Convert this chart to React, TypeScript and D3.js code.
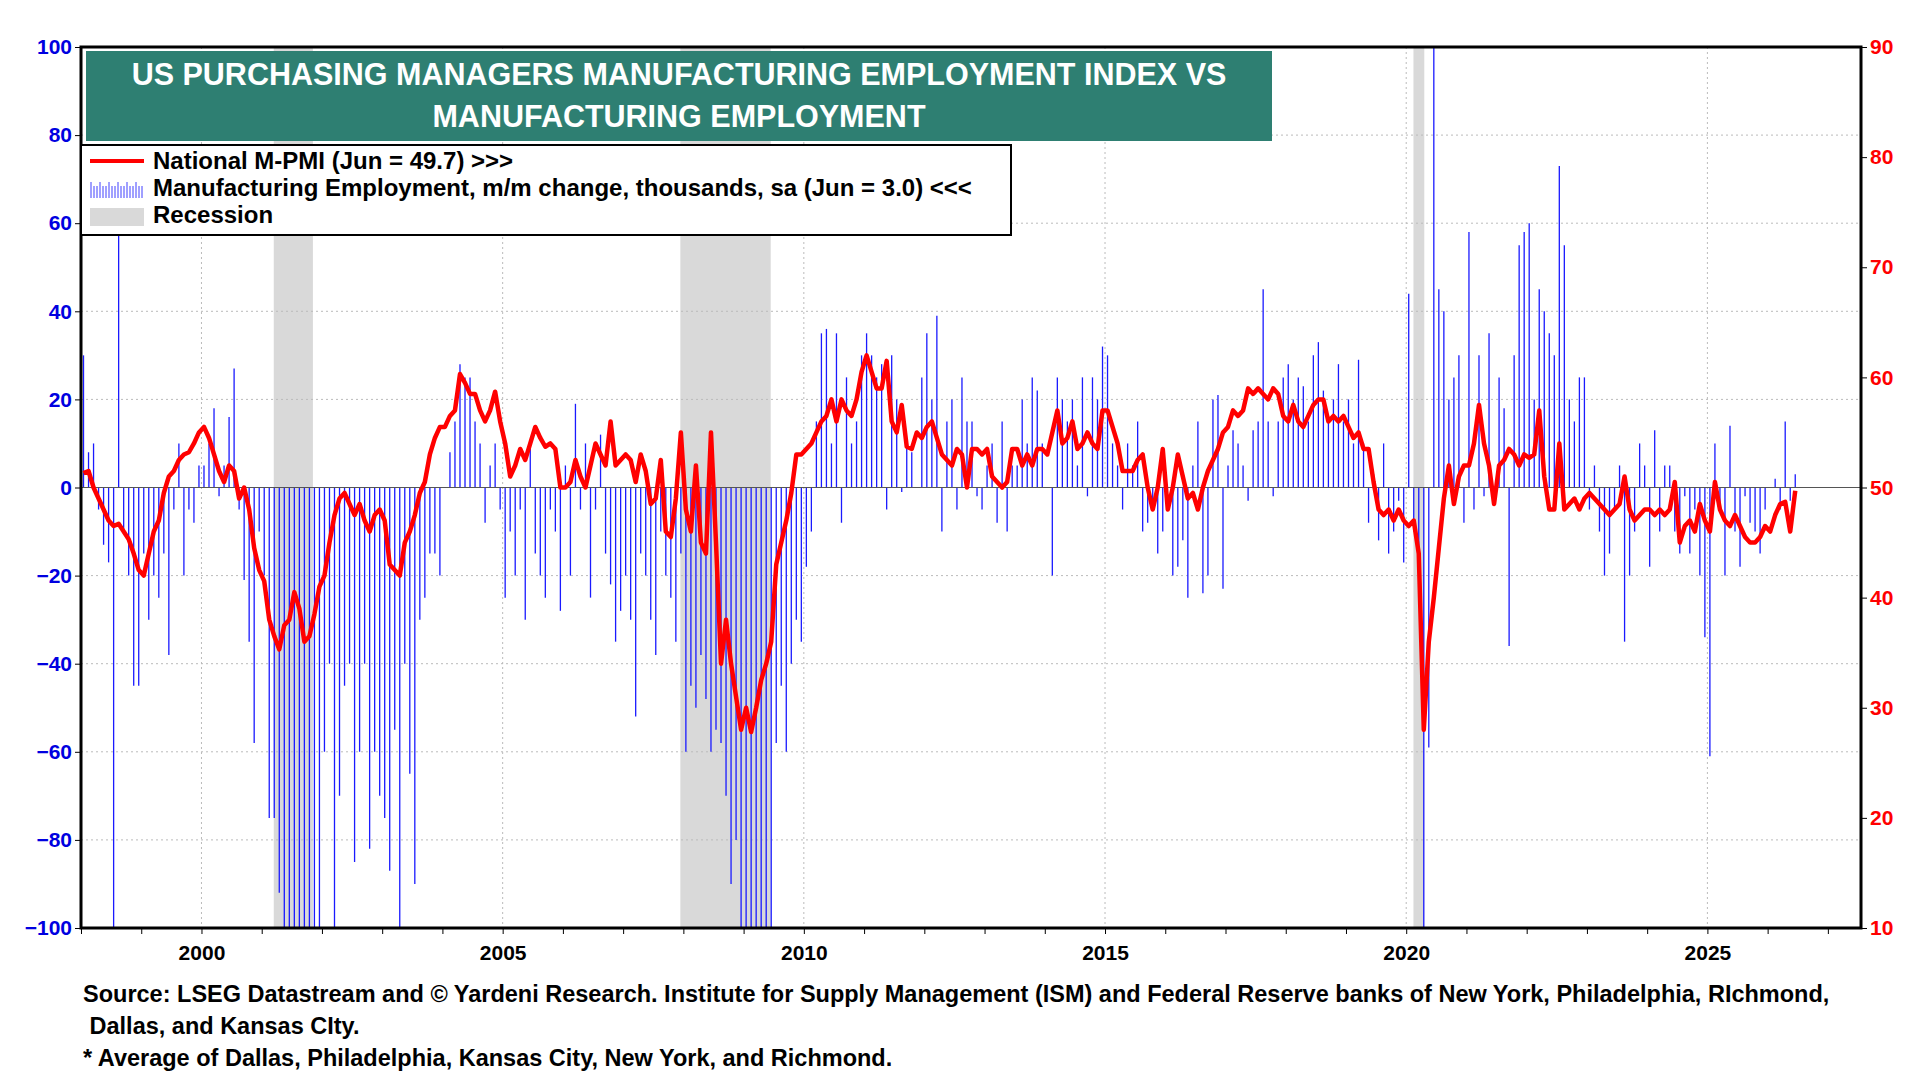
import * as d3 from "d3";
import { useEffect, useRef } from "react";

const startYear = 1998;
// Manufacturing employment, m/m change, thousands (monthly from Jan 1998)
const employment: number[] = [
  30, 8, 10, -5, -13, -17, -100, 60, -10, -20, -45, -45,
  -15, -30, -20, -25, -15, -38, -5, 10, -20, -5, -8, 5,
  5, 10, 18, -2, 5, 16, 27, -5, -21, -35, -58, -10,
  -20, -75, -75, -92, -100, -100, -100, -100, -100, -100, -100, -100,
  -60, -40, -100, -70, -45, -40, -85, -60, -40, -82, -60, -70,
  -75, -87, -55, -100, -40, -65, -90, -30, -25, -15, -15, -20,
  0, 8, 15, 28, 25, 25, 15, 10, -8, 5, 10, -5,
  -25, -10, -20, -5, -30, 10, -15, -20, -25, -5, -10, -28,
  5, -20, 19, -5, 10, -25, -5, 12, -15, -22, -35, -28,
  -20, -30, -52, -15, -20, -30, -38, -10, -20, -25, -35, -15,
  -60, -45, -50, -38, -48, -60, -55, -58, -70, -90, -80, -100,
  -100, -100, -100, -100, -100, -100, -58, -45, -60, -40, -30, -35,
  -18, -10, 15, 35, 36, 10, 35, -8, 25, 10, 15, 30,
  35, 30, 25, 28, -5, 30, 20, -1, 10, 8, 0, 25,
  35, 20, 39, -10, 15, 20, -5, 25, 15, 15, -2, -5,
  5, 10, -8, 15, -10, 5, 5, 20, 10, 25, 22, 10,
  0, -20, 25, 20, 15, 20, 5, 25, -2, 25, 20, 32,
  30, 10, 5, -5, 10, 5, 15, -10, -8, -5, -15, -10,
  0, -20, -18, -12, -25, 5, 15, -24, -20, 20, 21, -23,
  5, 13, 10, 5, -3, 13, 15, 45, 15, -2, 15, 25,
  28, 20, 25, 23, 15, 30, 33, 22, 15, 20, 28, 15,
  20, 10, 29, 10, -8, 3, -12, 10, -15, -10, -3, -17,
  44, -10, -15, -100, -59, 100, 45, 40, 20, 25, 30, -8,
  58, -5, 30, -2, 35, -3, 25, 18, -36, 30, 55, 58,
  60, 20, 45, 40, 35, 30, 73, 55, 20, 15, 25, 25,
  -5, 5, -10, -20, -15, -5, 5, -35, -20, -10, 10, 5,
  -18, 13, -10, 5, 5, -10, -15, -2, -15, -5, -20, -34,
  -61, 10, -5, -20, 14, -10, -18, -2, -8, -10, -15, -5,
  0, 2, -5, 15, -3, 3,
];
// National M-PMI (monthly from Jan 1998)
const pmi: number[] = [
  51.3, 51.5, 50, 49, 48, 47, 46.5, 46.7, 46, 45.3, 44, 42.5,
  42, 44, 46, 47, 49.5, 51, 51.5, 52.5, 53, 53.2, 54, 55,
  55.5, 54.5, 53, 51.5, 50.5, 52, 51.5, 49, 50, 48, 44.5, 42.5,
  41.5, 38, 36.5, 35.3, 37.5, 38, 40.5, 39, 36, 36.5, 38.5, 41,
  42, 45, 47.5, 49, 49.5, 48.5, 47.5, 48.5, 47, 46, 47.5, 48,
  47, 43, 42.5, 42, 45, 46, 47.5, 49.5, 50.5, 53, 54.5, 55.5,
  55.5, 56.5, 57, 60.3, 59.5, 58.5, 58.5, 57, 56, 57, 58.7, 56,
  54, 51, 52, 53.5, 52.5, 54, 55.5, 54.5, 53.7, 54, 53.5, 50,
  50, 50.5, 52.5, 51, 50, 52, 54, 53, 52, 56, 52, 52.5,
  53, 52.5, 50.5, 53, 51.5, 48.5, 49, 52.5, 46, 45.5, 49, 55,
  48, 46, 52, 45, 44, 55, 45, 34, 38, 34, 31, 28,
  30, 27.8, 30, 32.5, 34, 36, 43, 45, 47, 49.5, 53, 53,
  53.5, 54, 55, 56, 56.5, 58, 56, 58, 57, 56.5, 58, 60.5,
  62, 60.5, 59, 59, 61.5, 56, 55, 57.5, 53.7, 53.5, 55, 54.5,
  55.5, 56, 54.5, 53, 52.5, 52, 53.5, 53, 50, 53.5, 53.5, 53,
  53.5, 51, 50.5, 50, 50.5, 53.5, 53.5, 52, 53, 52, 53.5, 53.5,
  53, 55, 57, 54, 54.5, 56, 53.5, 54, 55, 54, 53.5, 57,
  57, 55.5, 54, 51.5, 51.5, 51.5, 52.5, 53, 50, 48, 50, 53.5,
  48, 50, 53, 51, 49, 49.5, 48, 50, 51.5, 52.5, 53.5, 55,
  55.5, 57, 56.5, 57, 59, 58.5, 59, 58.5, 58, 59, 58.5, 56.5,
  56, 57.5, 56, 55.5, 56.5, 57.5, 58, 58, 56, 56.5, 56, 56.5,
  55.5, 54.5, 55, 53.5, 53.5, 50.5, 48, 47.5, 48, 47, 48, 47,
  46.5, 47, 44, 28, 36, 40, 44.5, 49, 52, 48.5, 51, 52,
  52, 54, 57.5, 54, 52, 48.5, 52, 52.5, 53.5, 53, 52, 53,
  52.7, 53, 57, 51, 48, 48, 54, 48, 48.5, 49, 48, 49,
  49.5, 49, 48.5, 48, 47.5, 48, 48.5, 51, 48, 47, 47.5, 48,
  48, 47.5, 48, 47.5, 48, 50.5, 45, 46.5, 47, 46, 48.5, 47,
  46, 50.5, 48, 47, 46.5, 47.5, 46.5, 45.5, 45, 45, 45.5, 46.5,
  46, 47.5, 48.5, 48.7, 46, 49.7,
];
const recessions: [number, number][] = [[2001.2, 2001.85], [2007.95, 2009.45], [2020.12, 2020.3]];
const leftTicks = [-100, -80, -60, -40, -20, 0, 20, 40, 60, 80, 100];
const rightTicks = [10, 20, 30, 40, 50, 60, 70, 80, 90];
const yearLabels = [2000, 2005, 2010, 2015, 2020, 2025];

export default function App() {
  const ref = useRef<SVGSVGElement | null>(null);

  useEffect(() => {
    const svg = d3.select(ref.current);
    svg.selectAll("*").remove();
    const W = 1920, H = 1080;
    const m = { left: 81, right: 59, top: 47, bottom: 152 };
    const x = d3.scaleLinear().domain([1998.0, 2027.55]).range([m.left, W - m.right]);
    const yL = d3.scaleLinear().domain([-100, 100]).range([H - m.bottom, m.top]);
    const yR = d3.scaleLinear().domain([10, 90]).range([H - m.bottom, m.top]);
    const font = "Liberation Sans, Arial, sans-serif";

    svg.append("defs").append("clipPath").attr("id", "clip").append("rect")
      .attr("x", m.left).attr("y", m.top).attr("width", W - m.left - m.right).attr("height", H - m.top - m.bottom);

    const g = svg.append("g").attr("clip-path", "url(#clip)");
    g.selectAll("rect.rec").data(recessions).enter().append("rect")
      .attr("x", (d) => x(d[0])).attr("width", (d) => x(d[1]) - x(d[0]))
      .attr("y", m.top).attr("height", H - m.top - m.bottom).attr("fill", "#d9d9d9");

    // grid
    g.selectAll("line.hg").data(leftTicks).enter().append("line")
      .attr("x1", m.left).attr("x2", W - m.right).attr("y1", (d) => yL(d)).attr("y2", (d) => yL(d))
      .attr("stroke", "#bbb").attr("stroke-dasharray", "2,3");
    g.selectAll("line.vg").data(yearLabels).enter().append("line")
      .attr("x1", (d) => x(d)).attr("x2", (d) => x(d)).attr("y1", m.top).attr("y2", H - m.bottom)
      .attr("stroke", "#bbb").attr("stroke-dasharray", "2,3");

    const t = (i: number) => startYear + (i + 0.5) / 12;
    g.selectAll("line.bar").data(employment).enter().append("line")
      .attr("x1", (_, i) => x(t(i))).attr("x2", (_, i) => x(t(i)))
      .attr("y1", yL(0)).attr("y2", (d) => yL(d))
      .attr("stroke", "#1a1aff").attr("stroke-width", 1.3);
    g.append("line").attr("x1", m.left).attr("x2", W - m.right).attr("y1", yL(0)).attr("y2", yL(0))
      .attr("stroke", "#555").attr("stroke-width", 1);

    const line = d3.line<number>().x((_, i) => x(t(i))).y((d) => yR(d));
    g.append("path").datum(pmi).attr("d", line).attr("fill", "none")
      .attr("stroke", "#ff0000").attr("stroke-width", 4.5).attr("stroke-linejoin", "round");

    svg.append("rect").attr("x", m.left).attr("y", m.top).attr("width", W - m.left - m.right)
      .attr("height", H - m.top - m.bottom).attr("fill", "none").attr("stroke", "#000").attr("stroke-width", 3);

    // axes
    const la = svg.append("g").attr("transform", `translate(${m.left},0)`)
      .call(d3.axisLeft(yL).tickValues(leftTicks).tickSize(6));
    la.selectAll("text").attr("fill", "#0000e0");
    const ra = svg.append("g").attr("transform", `translate(${W - m.right},0)`)
      .call(d3.axisRight(yR).tickValues(rightTicks).tickSize(6));
    ra.selectAll("text").attr("fill", "#ff0000");
    const years = d3.range(1998, 2028);
    const ba = svg.append("g").attr("transform", `translate(0,${H - m.bottom})`)
      .call(d3.axisBottom(x).tickValues(years).tickSize(6).tickFormat((d) => (yearLabels.includes(+d) ? String(d) : "")));
    ba.selectAll("text").attr("fill", "#000").attr("dy", "1.1em");
    [la, ra, ba].forEach((a) => {
      a.select(".domain").remove();
      a.selectAll("text").attr("font-family", font).attr("font-weight", "bold").attr("font-size", 21);
    });

    // title
    svg.append("rect").attr("x", 86).attr("y", 51).attr("width", 1186).attr("height", 90).attr("fill", "#2e7f72");
    ["US PURCHASING MANAGERS MANUFACTURING EMPLOYMENT INDEX VS", "MANUFACTURING EMPLOYMENT"].forEach((s, i) =>
      svg.append("text").attr("x", 679).attr("y", 85 + i * 42).attr("text-anchor", "middle")
        .attr("font-family", font).attr("font-weight", "bold").attr("font-size", 30.5).attr("fill", "#fff").text(s));

    // legend
    const lg = svg.append("g");
    lg.append("rect").attr("x", 81).attr("y", 145).attr("width", 930).attr("height", 90)
      .attr("fill", "#fff").attr("stroke", "#000").attr("stroke-width", 2);
    const items = ["National M-PMI (Jun = 49.7) >>>", "Manufacturing Employment, m/m change, thousands, sa (Jun = 3.0) <<<", "Recession"];
    items.forEach((s, i) => lg.append("text").attr("x", 153).attr("y", 169 + i * 27)
      .attr("font-family", font).attr("font-weight", "bold").attr("font-size", 24).text(s));
    lg.append("line").attr("x1", 90).attr("x2", 144).attr("y1", 161).attr("y2", 161).attr("stroke", "#f00").attr("stroke-width", 4);
    lg.selectAll("line.lb").data(d3.range(18)).enter().append("line")
      .attr("x1", (d) => 91 + d * 3).attr("x2", (d) => 91 + d * 3).attr("y1", (d) => 196 - (d % 3 === 0 ? 14 : 10)).attr("y2", 198)
      .attr("stroke", "#4040ff").attr("stroke-width", 1);
    lg.append("rect").attr("x", 90).attr("y", 208).attr("width", 54).attr("height", 18).attr("fill", "#d9d9d9");

    // source
    ["Source: LSEG Datastream and © Yardeni Research. Institute for Supply Management (ISM) and Federal Reserve banks of New York, Philadelphia, RIchmond,",
      " Dallas, and Kansas CIty.", "* Average of Dallas, Philadelphia, Kansas City, New York, and Richmond."].forEach((s, i) =>
      svg.append("text").attr("x", 83).attr("y", 1002 + i * 32).attr("xml:space", "preserve")
        .attr("font-family", font).attr("font-weight", "bold").attr("font-size", 23.5).text(s));
  }, []);

  return <svg ref={ref} width={1920} height={1080} style={{ display: "block", margin: -8, background: "#fff" }} />;
}
